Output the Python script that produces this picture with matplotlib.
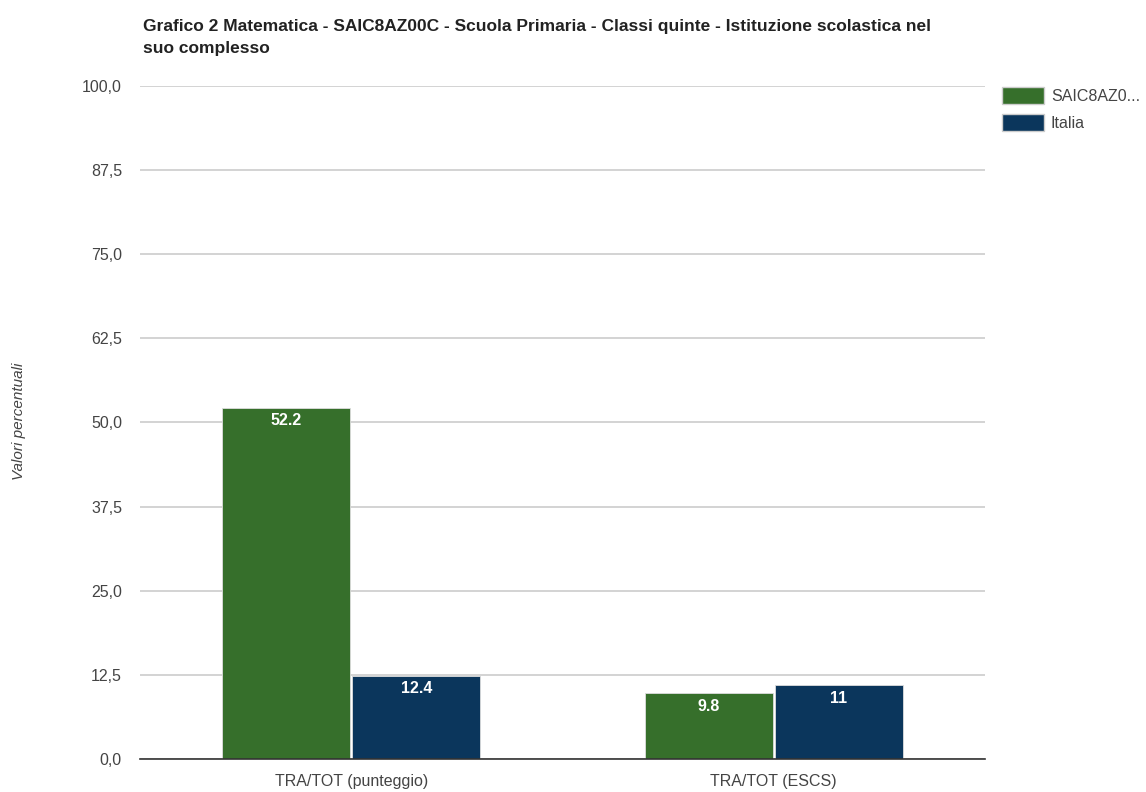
import numpy as np
import matplotlib
matplotlib.use('Agg')
from matplotlib import pyplot as plt
from matplotlib.patches import Patch

# Data --------------------------------------------

categories = ['TRA/TOT (punteggio)', 'TRA/TOT (ESCS)']
scuola = [52.2, 9.8]
italia = [12.4, 11]
scuolaLabels = ['52.2', '9.8']
italiaLabels = ['12.4', '11']
seriesNames = ['SAIC8AZ0...', 'Italia']
yTicks = [0, 12.5, 25, 37.5, 50, 62.5, 75, 87.5, 100]

# Style --------------------------------------------

plt.rcParams['font.family'] = ['Liberation Sans', 'DejaVu Sans']
green = '#366f2b'
blue = '#0b365c'
tickGray = '#444444'

fig = plt.figure(figsize=(11.46, 7.92), dpi=100)
ax = fig.add_axes([0.1222, 0.0417, 0.7373, 0.8497])

x = np.arange(len(categories))
w = 0.303
gap = 0.0024
barsS = ax.bar(x - w/2 - gap, scuola, w, color=green, edgecolor='#dddddd', linewidth=0.6, zorder=3)
barsI = ax.bar(x + w/2 + gap, italia, w, color=blue, edgecolor='#dddddd', linewidth=0.6, zorder=3)

# value labels inside the top of each bar
for bars, labels in [(barsS, scuolaLabels), (barsI, italiaLabels)]:
    for b, lab in zip(bars, labels):
        ax.annotate(lab, (b.get_x() + b.get_width()/2, b.get_height()),
                    xytext=(0, -4), textcoords='offset points',
                    ha='center', va='top', color='white', fontsize=11.5,
                    fontweight='bold', zorder=4)

ax.set_xlim(-0.5, 1.5)
ax.set_ylim(0, 100)
ax.set_yticks(yTicks)
ax.set_yticklabels([('%.1f' % t).replace('.', ',') for t in yTicks])
ax.set_xticks(x)
ax.set_xticklabels(categories)
ax.tick_params(axis='both', length=0, colors=tickGray, labelsize=11.5)
ax.tick_params(axis='y', pad=13)
ax.tick_params(axis='x', pad=11)

ax.grid(axis='y', color='#cccccc', linewidth=1.2, zorder=0)
for s in ['top', 'right', 'left']:
    ax.spines[s].set_visible(False)
ax.spines['bottom'].set_color('#333333')
ax.spines['bottom'].set_linewidth(1.2)
ax.spines['bottom'].set_zorder(5)

fig.text(0.017, 0.468, 'Valori percentuali', rotation=90, style='italic',
         ha='center', va='center', fontsize=11, color=tickGray)

fig.text(0.125, 0.976, 'Grafico 2 Matematica - SAIC8AZ00C - Scuola Primaria - Classi quinte - Istituzione scolastica nel\nsuo complesso',
         ha='left', va='top', fontsize=12.5, fontweight='bold', color='#222222',
         linespacing=1.6)

handles = [Patch(facecolor=green, edgecolor='#cccccc'), Patch(facecolor=blue, edgecolor='#cccccc')]
fig.legend(handles, seriesNames, loc='upper left', bbox_to_anchor=(0.862, 0.908),
           frameon=False, fontsize=11.5, handlelength=2.6, handleheight=1.25,
           handletextpad=0.45, labelspacing=0.6, labelcolor=tickGray)

fig.savefig('out.png', dpi=100)
